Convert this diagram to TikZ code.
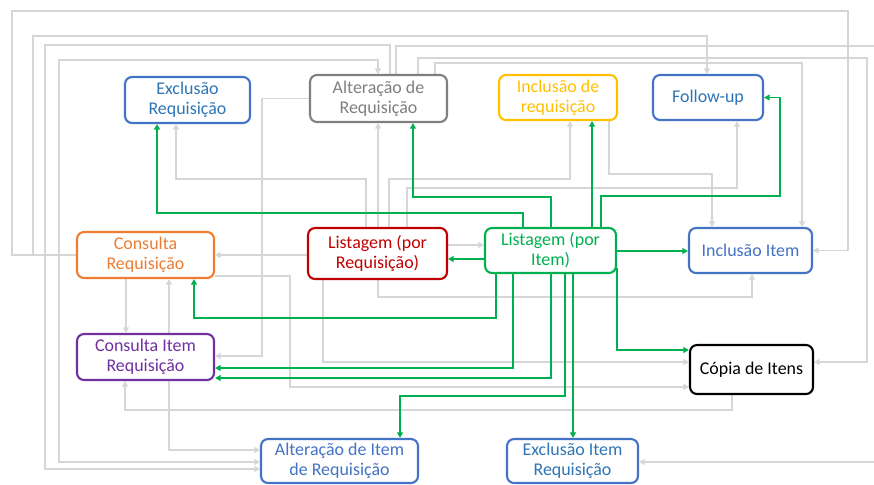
\documentclass[tikz,border=0pt]{standalone}
\usepackage{fontspec}
\setmainfont{Carlito}
\usetikzlibrary{arrows.meta}
\pgfdeclarelayer{back}
\pgfdeclarelayer{bg}
\pgfsetlayers{back,bg,main}
\definecolor{lgray}{HTML}{D6D6D6}
\definecolor{lgreen}{HTML}{00B050}
\definecolor{mblue}{HTML}{4472C4}
\definecolor{tblue}{HTML}{2E75B6}
\definecolor{dgray}{HTML}{7F7F7F}
\definecolor{gold}{HTML}{FFC000}
\definecolor{orng}{HTML}{ED7D31}
\definecolor{dred}{HTML}{C00000}
\definecolor{purp}{HTML}{7030A0}
\begin{document}
\begin{tikzpicture}[x=0.02cm,y=-0.02cm,
  >={Triangle[length=3.2pt,width=3.4pt]},
  box/.style={draw, rounded corners=4pt, line width=1.2pt, fill=white, align=center,
    inner sep=0pt, font=\fontsize{10.2}{11.4}\selectfont},
  gl/.style={draw=lgray, line width=0.85pt},
  gr/.style={draw=lgreen, line width=1.1pt}]
\begin{pgfonlayer}{back}
\fill[white] (0,0) rectangle (874,484);
\end{pgfonlayer}
\useasboundingbox (0,0) rectangle (874,484);
% nodes
\node[box, draw=mblue, text=tblue, minimum width=2.50cm, minimum height=0.92cm] (exreq) at (187.5,100) {Exclusão\\Requisição};
\node[box, draw=dgray, text=dgray, minimum width=2.74cm, minimum height=0.94cm] (altreq) at (378.5,98.5) {Alteração de\\Requisição};
\node[box, draw=gold, text=gold, minimum width=2.36cm, minimum height=0.90cm] (increq) at (558,97.5) {Inclusão de\\requisição};
\node[box, draw=mblue, text=tblue, minimum width=2.20cm, minimum height=0.90cm] (follow) at (708,97.5) {Follow-up};
\node[box, draw=orng, text=orng, minimum width=2.74cm, minimum height=0.92cm] (conreq) at (145.5,255) {Consulta\\Requisição};
\node[box, draw=dred, text=dred, minimum width=2.78cm, minimum height=1.02cm] (listreq) at (377.5,253.5) {Listagem (por\\Requisição)};
\node[box, draw=lgreen, text=lgreen, minimum width=2.62cm, minimum height=0.90cm] (listitem) at (550.5,250.5) {Listagem (por\\Item)};
\node[box, draw=mblue, text=mblue, minimum width=2.46cm, minimum height=0.90cm] (incitem) at (750.5,250.5) {Inclusão Item};
\node[box, draw=purp, text=purp, minimum width=2.74cm, minimum height=0.92cm] (conitem) at (145.5,357) {Consulta Item\\Requisição};
\node[box, draw=black, text=black, minimum width=2.46cm, minimum height=0.98cm] (copia) at (751.5,369.5) {Cópia de Itens};
\node[box, draw=mblue, text=mblue, minimum width=3.14cm, minimum height=0.88cm] (altitem) at (339.5,461) {Alteração de Item\\de Requisição};
\node[box, draw=mblue, text=tblue, minimum width=2.62cm, minimum height=0.88cm] (exitem) at (572.5,461) {Exclusão Item\\Requisição};
\begin{pgfonlayer}{bg}
% gray connectors
\draw[gl,->] (conreq.west) -- (12,255) |- (848,11) |- (incitem.east);
\draw[gl,->] (conreq.west) -- (33,255) |- (707,36) -- (follow.north -| 707,0);
\draw[gl,->] (altreq.north -| 390,0) |- (45,45) |- (altitem.west |- 0,469);
\draw[gl,<->] (altitem.west |- 0,462) -| (59,60) -| (altreq.north -| 378,0);
\draw[gl,->] (altreq.north -| 396,0) |- (890,46) |- (exitem.east |- 0,462);
\draw[gl,->] (altreq.north -| 418,0) |- (867,58) |- (copia.east |- 0,362);
\draw[gl,->] (altreq.north -| 435,0) |- (802,63) -- (incitem.north -| 802,0);
\draw[gl,->] (altreq.west) -| (262,356) -- (conitem.east |- 0,356);
\draw[gl,->] (listreq.north -| 366,0) |- (176,179) -- (exreq.south -| 176,0);
\draw[gl,->] (listreq.north -| 378,0) -- (altreq.south -| 378,0);
\draw[gl,->] (listreq.south -| 378,0) |- (752,297) -- (incitem.south -| 752,0);
\draw[gl,->] (listreq.north -| 389,0) |- (570,179) -- (increq.south -| 570,0);
\draw[gl,->] (listreq.north -| 407,0) |- (737,188) -- (follow.south -| 737,0);
\draw[gl,->] (increq.south -| 609,0) |- (712,174) -- (incitem.north -| 712,0);
\draw[gl,->] (listreq.east |- 0,245) -- (listitem.west |- 0,245);
\draw[gl,->] (listreq.west |- 0,255) -- (conreq.east |- 0,255);
\draw[gl,->] (conreq.south -| 126,0) -- (conitem.north -| 126,0);
\draw[gl,->] (conitem.north -| 169,0) -- (conreq.south -| 169,0);
\draw[gl,->] (conitem.south -| 169,0) |- (altitem.west |- 0,450);
\draw[gl,->] (conreq.east |- 0,276) -| (290,387) -- (copia.west |- 0,387);
\draw[gl,->] (listreq.south -| 323,0) |- (copia.west |- 0,362);
\draw[gl,->] (copia.south -| 732,0) |- (125,410) -- (conitem.south -| 125,0);
% green connectors
\draw[gr,->] (listitem.north -| 601,0) |- (780,196) |- (follow.east);
\draw[gr,->] (listitem.north -| 592,0) -- (increq.south -| 592,0);
\draw[gr,->] (listitem.north -| 551,0) |- (413,197) -- (altreq.south -| 413,0);
\draw[gr,->] (listitem.north -| 523,0) |- (157,213) -- (exreq.south -| 157,0);
\draw[gr,->] (listitem.west |- 0,259) -- (listreq.east |- 0,259);
\draw[gr,->] (listitem.east |- 0,251) -- (incitem.west |- 0,251);
\draw[gr,->] (listitem.east |- 0,268) |- (copia.west |- 0,350);
\draw[gr,->] (listitem.south -| 496,0) |- (194,318) -- (conreq.south -| 194,0);
\draw[gr,->] (listitem.south -| 513,0) |- (conitem.east |- 0,368);
\draw[gr,->] (listitem.south -| 551,0) |- (conitem.east |- 0,378);
\draw[gr,->] (listitem.south -| 565,0) |- (400,396) -- (altitem.north -| 400,0);
\draw[gr,->] (listitem.south -| 573,0) -- (exitem.north -| 573,0);
\end{pgfonlayer}
\end{tikzpicture}
\end{document}
